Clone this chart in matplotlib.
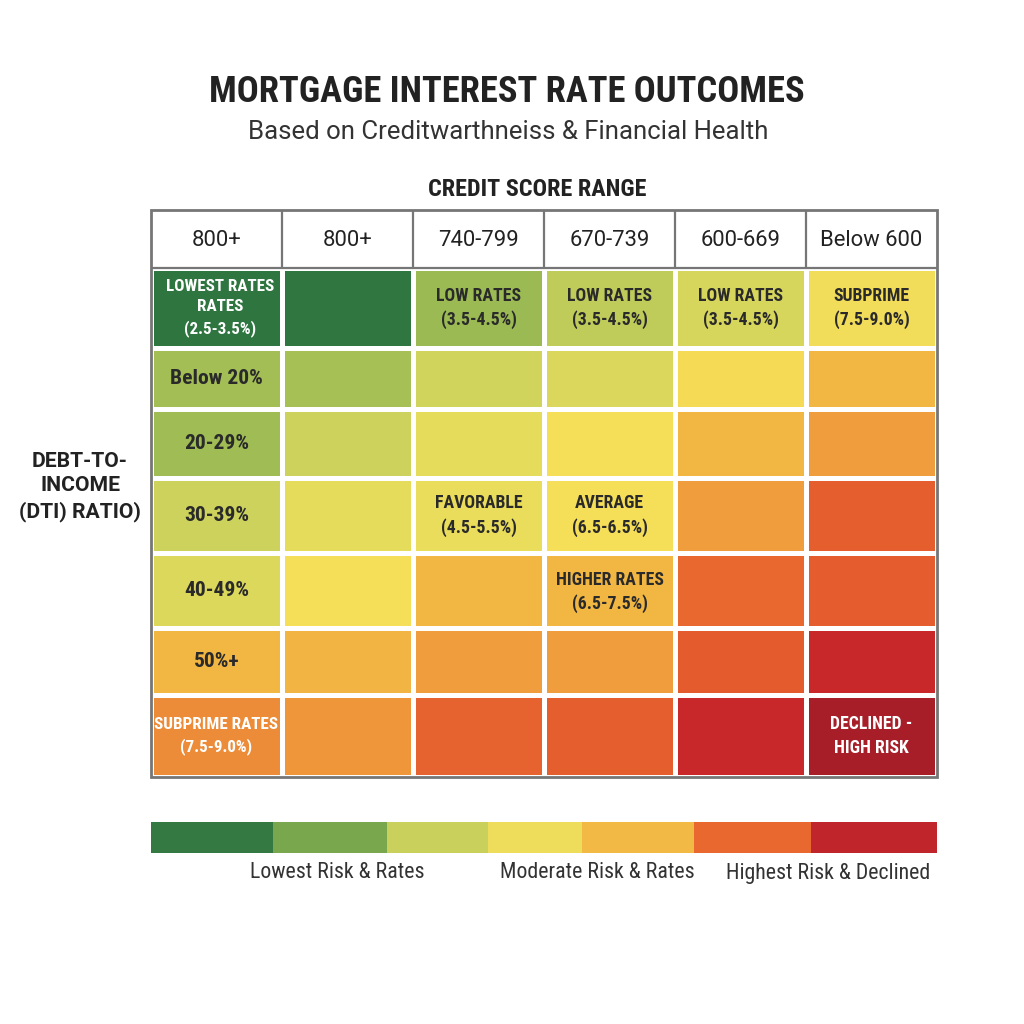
import matplotlib
matplotlib.use("Agg")
import matplotlib.pyplot as plt
import numpy as np
from matplotlib.colors import LinearSegmentedColormap
from matplotlib.patches import Rectangle
from matplotlib import font_manager

# ---------------- data ----------------
title = "MORTGAGE INTEREST RATE OUTCOMES"
subtitle = "Based on Creditwarthneiss & Financial Health"
col_axis_title = "CREDIT SCORE RANGE"
row_axis_title = "DEBT-TO-\nINCOME\n(DTI) RATIO)"
credit_cols = ["800+", "800+", "740-799", "670-739", "600-669", "Below 600"]
dti_rows = ["LOWEST RATES\nRATES\n(2.5-3.5%)", "Below 20%", "20-29%", "30-39%",
            "40-49%", "50%+", "SUBPRIME RATES\n(7.5-9.0%)"]
# estimated risk level of each cell (0 = lowest risk, 7 = declined)
risk_scores = [
    [0.00, 0.05, 1.40, 1.85, 2.20, 2.85],
    [1.50, 1.55, 2.10, 2.25, 3.10, 4.00],
    [1.45, 2.00, 2.50, 3.00, 4.00, 4.40],
    [2.00, 2.50, 2.65, 3.00, 4.40, 5.35],
    [2.30, 3.00, 4.00, 4.00, 5.00, 5.40],
    [4.00, 4.05, 4.40, 4.40, 5.45, 6.00],
    [4.60, 4.50, 5.20, 5.35, 6.00, 7.00],
]
cell_notes = {
    (0, 2): "LOW RATES\n(3.5-4.5%)",
    (0, 3): "LOW RATES\n(3.5-4.5%)",
    (0, 4): "LOW RATES\n(3.5-4.5%)",
    (0, 5): "SUBPRIME\n(7.5-9.0%)",
    (3, 2): "FAVORABLE\n(4.5-5.5%)",
    (3, 3): "AVERAGE\n(6.5-6.5%)",
    (4, 3): "HIGHER RATES\n(6.5-7.5%)",
    (6, 5): "DECLINED -\nHIGH RISK",
}
legend_levels = [0.1, 1.0, 1.95, 2.75, 3.95, 5.0, 6.3]
legend_labels = ["Lowest Risk & Rates", "Moderate Risk & Rates", "Highest Risk & Declined"]

# ---------------- style / layout ----------------
names = {f.name for f in font_manager.fontManager.ttflist}
NARROW = "Roboto"
for cand in ["Roboto Condensed", "Liberation Sans Narrow", "Open Sans Condensed", "Arial Narrow"]:
    if cand in names:
        NARROW = cand
        break
SANS = "Roboto" if "Roboto" in names else "DejaVu Sans"
plt.rcParams["font.family"] = [SANS, "DejaVu Sans"]
condensed = NARROW != "Roboto"
k = 1.08 if condensed else 1.0

anchor_pos = [0, 1, 1.5, 2, 2.5, 3, 4, 4.5, 5, 5.5, 6, 7]
anchor_col = ["#2e7540", "#7aa84e", "#a3bf55", "#cdd25c", "#e6dc5c", "#f5de58",
              "#f2b843", "#ef963b", "#e8682f", "#e45a2e", "#c9282b", "#a81e28"]
cmap = LinearSegmentedColormap.from_list(
    "risk", [(p / 7.0, c) for p, c in zip(anchor_pos, anchor_col)])

W = H = 1024
fig = plt.figure(figsize=(W / 100, H / 100), dpi=100)
fig.patch.set_facecolor("white")

def fx(px):
    return px / W

def fy(py):
    return 1 - py / H

grid_left, grid_right, grid_top, grid_bottom = 151, 937, 210, 777
header_h = 58
row_edges = [58, 138, 198.5, 268, 343, 418, 485, 567]

ax = fig.add_axes([fx(grid_left), fy(grid_bottom), (grid_right - grid_left) / W,
                   (grid_bottom - grid_top) / H])
ncol = len(credit_cols)
nrow = len(dti_rows)
xe = np.arange(ncol + 1)
scores = np.array(risk_scores)
ax.pcolormesh(xe, row_edges, scores, cmap=cmap, vmin=0, vmax=7,
              edgecolors="white", linewidth=2.2, zorder=1)
ax.set_xlim(0, ncol)
ax.set_ylim(row_edges[-1], 0)
ax.axis("off")

GRAY = "#767676"
# header
ax.add_patch(Rectangle((0, 0), ncol, header_h, facecolor="white", edgecolor="none", zorder=2))
ax.vlines(xe[1:-1], 0, header_h, color=GRAY, lw=1.6, zorder=3)
ax.hlines(header_h, 0, ncol, color=GRAY, lw=1.6, zorder=3)
ax.add_patch(Rectangle((0, 0), ncol, row_edges[-1], facecolor="none", edgecolor=GRAY,
                       lw=2.0, zorder=5, clip_on=False))
for j, lab in enumerate(credit_cols):
    ax.text(j + 0.5, header_h / 2 + 2, lab, ha="center", va="center",
            fontsize=15.8, color="#222222", family=[SANS, "DejaVu Sans"])

def text_color(s):
    return "white" if (s < 0.5 or s >= 4.5) else "#2a2a2a"

for i, lab in enumerate(dti_rows):
    yc = (row_edges[i] + row_edges[i + 1]) / 2
    multi = "\n" in lab
    ax.text(0.5 + (0.03 if i == 0 else 0), yc, lab, ha="center", va="center",
            fontsize=(11.3 if multi else 14.3) * k, fontweight="bold",
            color=text_color(scores[i, 0]), family=[NARROW, "DejaVu Sans"],
            linespacing=1.4, zorder=4)

for (i, j), lab in cell_notes.items():
    yc = (row_edges[i] + row_edges[i + 1]) / 2
    if i == 4:
        yc = row_edges[i] + 39
    ax.text(j + 0.5, yc, lab, ha="center", va="center", fontsize=11.8 * k,
            fontweight="bold", color=text_color(scores[i, j]),
            family=[NARROW, "DejaVu Sans"], linespacing=1.4, zorder=4)

# titles
fig.text(fx(507), fy(92), title, ha="center", va="center", fontsize=26.3,
         fontweight="bold", color="#222222", family=[NARROW, "DejaVu Sans"])
fig.text(fx(508), fy(132), subtitle, ha="center", va="center", fontsize=18.5,
         color="#333333")
fig.text(fx(537), fy(190), col_axis_title, ha="center", va="center", fontsize=17.4,
         fontweight="bold", color="#222222", family=[NARROW, "DejaVu Sans"])
fig.text(fx(80), fy(487), row_axis_title, ha="center", va="center", fontsize=15.2,
         fontweight="bold", color="#222222", family=[SANS, "DejaVu Sans"],
         linespacing=1.35)

# legend bar
leg_edges = [151, 273, 387, 488, 582, 694, 811, 937]
lax = fig.add_axes([fx(151), fy(853), (937 - 151) / W, (853 - 822) / H])
lax.pcolormesh(leg_edges, [0, 1], np.array([legend_levels]), cmap=cmap, vmin=0, vmax=7)
lax.set_xlim(leg_edges[0], leg_edges[-1])
lax.set_ylim(0, 1)
lax.axis("off")

for lab, xc in zip(legend_labels, [337, 597, 828]):
    fig.text(fx(xc), fy(873), lab, ha="center", va="center", fontsize=14.6 * k,
             color="#333333", family=[NARROW, "DejaVu Sans"])

fig.savefig("out.png", dpi=100, facecolor="white")
